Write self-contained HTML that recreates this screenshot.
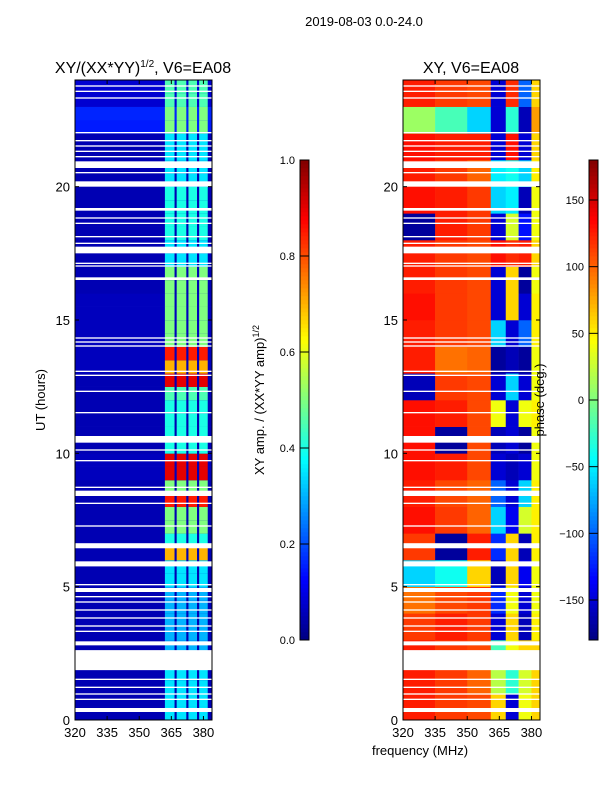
<!DOCTYPE html>
<html><head><meta charset="utf-8"><style>
body{margin:0;background:#fff;}
svg text{font-family:"Liberation Sans","DejaVu Sans",sans-serif;}
</style></head><body>
<svg id="fig" width="600" height="800" viewBox="0 0 600 800" xmlns="http://www.w3.org/2000/svg">
<text x="364" y="26" font-size="13" text-anchor="middle">2019-08-03 0.0-24.0</text>
<text x="143" y="73" font-size="16" text-anchor="middle">XY/(XX*YY)<tspan font-size="10" dy="-6">1/2</tspan><tspan dy="6">, V6=EA08</tspan></text>
<text x="471" y="73" font-size="16" text-anchor="middle">XY, V6=EA08</text>
<g id="left"></g>
<g id="right"></g>
<g id="axes"></g>
<text transform="translate(45,400) rotate(-90)" font-size="13" text-anchor="middle">UT (hours)</text>
<text transform="translate(264,400) rotate(-90)" font-size="13" text-anchor="middle">XY amp. / (XX*YY amp)<tspan font-size="9" dy="-5">1/2</tspan></text>
<text transform="translate(544,400) rotate(-90)" font-size="13" text-anchor="middle">phase (deg.)</text>
<text x="420" y="755" font-size="13" text-anchor="middle">frequency (MHz)</text>
</svg>
<script>
const freqTicks=[320,335,350,365,380];
const hourTicks=[0,5,10,15,20];
const ampTicks=[0.0,0.2,0.4,0.6,0.8,1.0];
const phaseTicks=[-150,-100,-50,0,50,100,150];
const ampLow=[0.05,0.05,0.05,0.05,0.05,0.05,0.05,0.05,0.05,0.05,0.05,0.05,0.05,0.05,0.05,0.05,0.05,0.05,0.06,0.06,0.05,0.05,0.05,0.05,0.05,0.05,0.06,0.06,0.06,0.06,0.06,0.06,0.05,0.05,0.05,0.05,0.05,0.05,0.05,0.05,0.05,0.05,0.05,0.05,0.15,0.16,0.08,0.08];
const ampStripe=[0.35,0.35,0.35,0.35,0.3,0.3,0.3,0.3,0.3,0.3,0.35,0.35,0.7,0.4,0.5,0.5,0.85,0.5,0.9,0.9,0.4,0.4,0.4,0.4,0.45,0.9,0.7,0.85,0.5,0.5,0.5,0.5,0.5,0.5,0.35,0.35,0.4,0.4,0.4,0.4,0.35,0.35,0.35,0.35,0.5,0.5,0.45,0.45];
const phaseCols=[320,335,350,361,368,374,380,384];
const phase=[
[125,115,110,60,-150,40,60],[125,115,100,20,-30,30,60],[125,115,110,-20,40,60,60],[115,125,115,-150,60,-160,50],
[95,110,115,-120,40,-150,40],[-60,-40,60,-160,60,-140,40],[115,-170,125,-120,60,-160,50],[130,115,100,-60,-140,30,50],
[125,110,100,-100,-150,-60,50],[130,125,110,-150,-160,-150,40],[130,-170,110,-160,-150,-170,40],[130,125,110,40,-150,40,50],
[-160,115,110,-150,-60,-150,40],[125,95,100,-170,-160,-170,40],[125,115,110,-60,-150,-100,50],[130,115,110,-150,60,-150,50],
[125,115,110,-150,60,-170,40],[125,115,110,130,120,125,60],[-170,125,115,-150,30,-130,40],[130,125,115,-60,-50,-160,40],
[125,115,100,-50,-40,-60,50],[130,125,125,-150,130,-150,60],[10,-20,-60,-150,-30,-160,80],[125,115,110,-150,120,-100,60]];
const gaps=[[0.30,0.45],[0.75,0.8],[0.95,1.0],[1.2,1.25],[1.5,1.55],[1.87,2.62],[2.8,2.95],[3.3,3.35],[3.5,3.55],[3.8,3.85],[4.1,4.15],[4.4,4.45],[4.6,4.65],[4.8,4.95],[5.05,5.1],[5.76,5.95],[6.44,6.63],[7.25,7.3],[8.1,8.15],[8.4,8.6],[8.7,8.75],[9.7,9.75],[10.1,10.15],[10.4,10.65],[11.5,11.55],[12.3,12.35],[12.9,12.95],[13.05,13.1],[14.0,14.05],[14.15,14.2],[14.3,14.35],[16.5,16.6],[17.0,17.05],[17.1,17.15],[17.5,17.75],[17.85,17.9],[18.1,18.15],[18.6,18.65],[18.8,18.85],[19.1,19.2],[20.0,20.2],[20.5,20.55],[20.7,20.95],[21.1,21.15],[21.3,21.35],[21.5,21.55],[21.7,21.75],[22.0,22.05],[23.3,23.35],[23.55,23.6],[23.75,23.8]];
const stripeEdges=[[362,366.5],[367.5,372],[373,377],[378,382]];

const NS="http://www.w3.org/2000/svg";
function jet(v){v=Math.max(0,Math.min(1,v));
 const f=x=>Math.round(255*Math.max(0,Math.min(1,x)));
 return `rgb(${f(1.5-Math.abs(4*v-3))},${f(1.5-Math.abs(4*v-2))},${f(1.5-Math.abs(4*v-1))})`;}
function mk(tag,attrs,parent){const e=document.createElementNS(NS,tag);for(const k in attrs)e.setAttribute(k,attrs[k]);parent.appendChild(e);return e;}
const yH=h=>720-h*(640/24);
const xL=f=>75+(f-320)*(137/64);
const xR=f=>403+(f-320)*(137/64);
const L=document.getElementById('left'),R=document.getElementById('right'),A=document.getElementById('axes');
for(let i=0;i<48;i++){
 const y0=yH((i+1)/2),y1=yH(i/2);
 let r=mk('rect',{x:xL(320),y:y0,width:xL(384)-xL(320),height:y1-y0+0.3,fill:jet(ampLow[i])},L);
 
 
 for(const s of stripeEdges){
  let c=mk('rect',{x:xL(s[0]),y:y0,width:xL(s[1])-xL(s[0]),height:y1-y0+0.3,fill:jet(ampStripe[i])},L);
  
  
 }
}
for(let i=0;i<24;i++){
 const y0=yH(i+1),y1=yH(i);
 for(let j=0;j<7;j++){
  let c=mk('rect',{x:xR(phaseCols[j]),y:y0,width:xR(phaseCols[j+1])-xR(phaseCols[j])+0.3,height:y1-y0+0.3,fill:jet((phase[i][j]+180)/360)},R);
  
  
 }
}
for(const g of gaps){
 for(const [P,xf] of [[L,xL],[R,xR]]){
  let w=mk('rect',{x:xf(320),y:yH(g[1]),width:137,height:Math.max(1.3,yH(g[0])-yH(g[1])),fill:'#fff'},P);
  
  
 }
}
for(const [x0,name] of [[75,'left'],[403,'right']]){
 let fr=mk('rect',{x:x0,y:80,width:137,height:640,fill:'none',stroke:'#000','stroke-width':1},A);
 
 
 const xf=name==='left'?xL:xR;
 for(const f of freqTicks){const x=xf(f);
  mk('line',{x1:x,x2:x,y1:720,y2:716,stroke:'#000'},A);mk('line',{x1:x,x2:x,y1:80,y2:84,stroke:'#000'},A);
  let t=mk('text',{x:x,y:737,'font-size':13,'text-anchor':'middle'},A);t.textContent=f;
  
  }
 for(const h of hourTicks){const y=yH(h);
  mk('line',{x1:x0,x2:x0+4,y1:y,y2:y,stroke:'#000'},A);mk('line',{x1:x0+137,x2:x0+133,y1:y,y2:y,stroke:'#000'},A);
  let t=mk('text',{x:x0-5,y:y+5,'font-size':13,'text-anchor':'end'},A);t.textContent=h;
  
  }
}
function cbar(x,ticks,toFrac,name,fmt){
 const g=mk('g',{},A);
 
 
 for(let k=0;k<120;k++){mk('rect',{x:x,y:640-(k+1)*4,width:9,height:4.3,fill:jet((k+0.5)/120)},g);}
 mk('rect',{x:x,y:160,width:9,height:480,fill:'none',stroke:'#000','stroke-width':1},g);
 for(const v of ticks){const y=640-toFrac(v)*480;
  mk('line',{x1:x,x2:x+9,y1:y,y2:y,stroke:'#000'},g);
  let t=mk('text',{x:x-5,y:y+4,'font-size':11,'text-anchor':'end'},g);t.textContent=fmt(v);
  
  }
}
cbar(300,ampTicks,v=>v,'amp-colorbar',v=>v.toFixed(1));
cbar(589,phaseTicks,v=>(v+180)/360,'phase-colorbar',v=>v<0?'\u2212'+(-v):String(v));
</script>
</body></html>
